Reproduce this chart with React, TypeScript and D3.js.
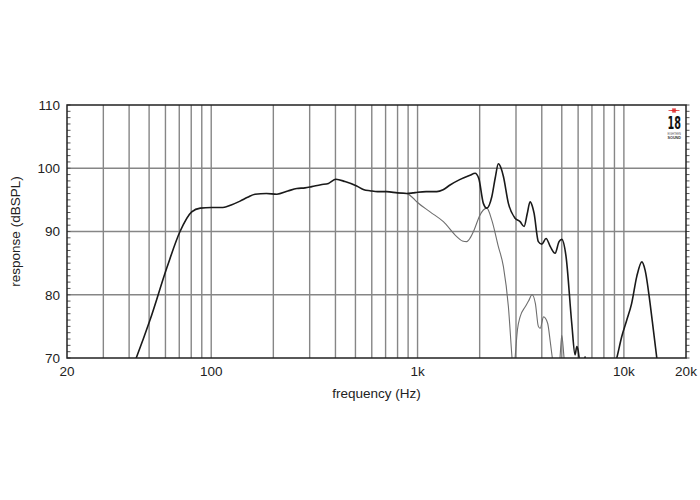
import React from "react";
import * as d3 from "d3";

const xTickValues = [20, 100, 1000, 10000, 20000];
const xTickLabels = ["20", "100", "1k", "10k", "20k"];
const yTickValues = [70, 80, 90, 100, 110];
const gridFreqs = [30, 40, 50, 60, 70, 80, 90, 100, 200, 300, 400, 500, 600, 700, 800, 900, 1000, 2000, 3000, 4000, 5000, 6000, 7000, 8000, 9000, 10000];
const gridDb = [80, 90, 100];

const mainFreq = [41, 43.3, 50.5, 61, 70.6, 80.4, 88.5, 100, 114, 125, 138, 150, 163, 185, 208, 235, 260, 285, 307, 340, 370, 402, 445, 507, 550, 588, 640, 709, 800, 886, 950, 1000, 1100, 1239, 1330, 1437, 1600, 1797, 1900, 1980, 2084, 2165, 2290, 2380, 2464, 2540, 2607, 2756, 2970, 3140, 3283, 3400, 3510, 3600, 3670, 3850, 4000, 4196, 4400, 4640, 4850, 5000, 5246, 5588, 5800, 5913, 6000, 6100, 6300, 6486, 6700, 8500, 9236, 9767, 10330, 10900, 11550, 12215, 12670, 13400, 13900, 14440, 15000];
const mainDb = [68, 70, 76.0, 84.3, 90.0, 93.1, 93.7, 93.8, 93.8, 94.2, 94.8, 95.4, 95.9, 96.0, 95.9, 96.4, 96.8, 96.9, 97.1, 97.4, 97.6, 98.25, 97.9, 97.2, 96.6, 96.45, 96.3, 96.3, 96.1, 96.0, 96.1, 96.2, 96.3, 96.3, 96.6, 97.35, 98.2, 98.9, 99.2, 98.4, 94.45, 93.7, 95.5, 98.5, 100.7, 100.0, 98.7, 94.45, 92.1, 91.55, 90.8, 92.8, 94.7, 94.0, 92.9, 88.4, 88.0, 88.9, 87.6, 86.55, 88.4, 88.75, 86.0, 75.5, 70.5, 71.8, 71.2, 69.5, 68, 70.2, 67, 66, 70, 73.4, 76.0, 78.6, 82.9, 85.2, 83.9, 78.6, 74.4, 70, 66];

const offFreq = [800, 886, 950, 991, 1150, 1334, 1548, 1650, 1732, 1800, 1878, 2000, 2084, 2165, 2290, 2464, 2607, 2756, 2870, 2920, 2970, 3050, 3140, 3325, 3450, 3588, 3725, 3850, 3930, 4080, 4270, 4400, 4500, 4700, 4900, 5000, 5130, 5300];
const offDb = [96.1, 96.0, 95.3, 94.7, 93.1, 91.55, 89.2, 88.5, 88.4, 89.0, 90.2, 92.5, 93.4, 93.7, 91.8, 87.6, 84.45, 78.1, 70, 67, 70, 74.5, 76.5, 78.1, 79.0, 80.0, 78.6, 75.0, 74.7, 76.5, 75.5, 72.5, 70, 66, 70, 73.6, 70, 66];

export default function App() {
  const left = 67, right = 686, top = 105, bottom = 358;
  const x = d3.scaleLog().domain([20, 20000]).range([left, right]);
  const y = d3.scaleLinear().domain([70, 110]).range([bottom, top]);
  const line = d3
    .line<[number, number]>()
    .x((d) => x(d[0]))
    .y((d) => y(d[1]))
    .curve(d3.curveMonotoneX);
  const mainPts = mainFreq.map((f, i) => [f, mainDb[i]] as [number, number]);
  const offPts = offFreq.map((f, i) => [f, offDb[i]] as [number, number]);
  const minor = d3.range(70, 111, 1);
  const font = "'Liberation Sans', Arial, Helvetica, sans-serif";
  const sx = 674, sy = 110.5, sr = 2.6;
  const starLines = [0, 45, 90, 135].map((a) => {
    const r = (a * Math.PI) / 180;
    return [sx - sr * Math.cos(r), sy - sr * Math.sin(r), sx + sr * Math.cos(r), sy + sr * Math.sin(r)];
  });

  return (
    <svg width={700} height={500} style={{ position: "absolute", left: 0, top: 0, background: "#fff" }}>
      <rect x={0} y={0} width={700} height={500} fill="#fff" />
      <defs>
        <clipPath id="plot">
          <rect x={left} y={top} width={right - left} height={bottom - top} />
        </clipPath>
      </defs>
      {gridFreqs.map((f) => (
        <line key={"v" + f} x1={x(f)} x2={x(f)} y1={top} y2={bottom} stroke="#868686" strokeWidth={1.4} />
      ))}
      {gridDb.map((v) => (
        <line key={"h" + v} x1={left} x2={right} y1={y(v)} y2={y(v)} stroke="#868686" strokeWidth={1.4} />
      ))}
      {minor.map((v) => (
        <g key={"t" + v}>
          <line x1={left} x2={left + 3.5} y1={y(v)} y2={y(v)} stroke="#555" strokeWidth={1} />
          <line x1={right} x2={right + 3.5} y1={y(v)} y2={y(v)} stroke="#555" strokeWidth={1} />
        </g>
      ))}
      <g clipPath="url(#plot)">
        <path d={line(offPts) || ""} fill="none" stroke="#6e6e6e" strokeWidth={1.1} />
        <path d={line(mainPts) || ""} fill="none" stroke="#1a1a1a" strokeWidth={1.6} />
      </g>
      <rect x={left} y={top} width={right - left} height={bottom - top} fill="none" stroke="#222" strokeWidth={1.5} />
      {yTickValues.map((v) => (
        <text key={"yl" + v} x={60} y={y(v)} dy="0.36em" textAnchor="end" fontFamily={font} fontSize={13.5} fill="#222">
          {v}
        </text>
      ))}
      {xTickValues.map((v, i) => (
        <text key={"xl" + v} x={x(v)} y={376} textAnchor="middle" fontFamily={font} fontSize={13.5} fill="#222">
          {xTickLabels[i]}
        </text>
      ))}
      <text x={(left + right) / 2} y={398} textAnchor="middle" fontFamily={font} fontSize={13.5} fill="#222">
        frequency (Hz)
      </text>
      <text transform={`translate(20,${(top + bottom) / 2}) rotate(-90)`} textAnchor="middle" fontFamily={font} fontSize={13.5} fill="#222">
        response (dBSPL)
      </text>
      <g>
        <line x1={668.5} x2={679.5} y1={sy} y2={sy} stroke="#e03030" strokeWidth={0.8} />
        {starLines.map((l, i) => (
          <line key={"s" + i} x1={l[0]} y1={l[1]} x2={l[2]} y2={l[3]} stroke="#e03030" strokeWidth={1.1} />
        ))}
        <text x={667.5} y={128.5} textLength={13.5} lengthAdjust="spacingAndGlyphs" fontFamily="'DejaVu Sans Condensed', 'DejaVu Sans', sans-serif" fontWeight="bold" fontSize={17} fill="#111">18</text>
        <text x={667.5} y={134.5} textLength={13.5} lengthAdjust="spacingAndGlyphs" fontFamily={font} fontSize={3} fill="#555">EIGHTEEN</text>
        <text x={667.5} y={138.5} textLength={13.5} lengthAdjust="spacingAndGlyphs" fontFamily={font} fontSize={4} fontWeight="bold" fill="#333">SOUND</text>
      </g>
    </svg>
  );
}
